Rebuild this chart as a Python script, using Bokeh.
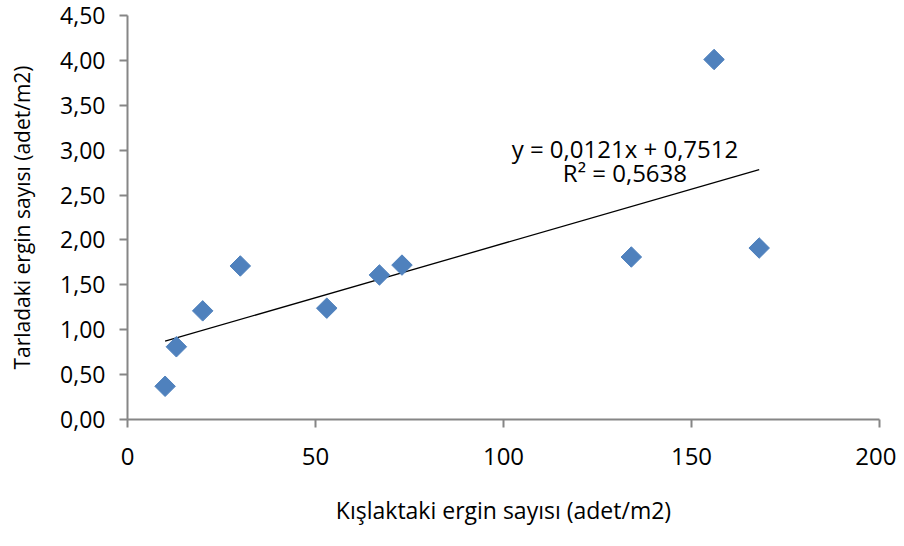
from bokeh.plotting import figure
from bokeh.models import Range1d, FixedTicker, ColumnDataSource
from bokeh.core.properties import value
from bokeh.embed import file_html
from bokeh.resources import INLINE

# data
x_vals = [10, 13, 20, 30, 53, 67, 73, 134, 156, 168]
y_vals = [0.37, 0.81, 1.21, 1.71, 1.24, 1.61, 1.72, 1.81, 4.01, 1.91]
slope_val = 0.0121
intercept_val = 0.7512
eq_text = "y = 0,0121x + 0,7512"
r2_text = "R² = 0,5638"
x_ticks = [0, 50, 100, 150, 200]
y_ticks = [0, 0.5, 1.0, 1.5, 2.0, 2.5, 3.0, 3.5, 4.0, 4.5]
y_tick_labels = ["0,00", "0,50", "1,00", "1,50", "2,00", "2,50", "3,00", "3,50", "4,00", "4,50"]
x_title = "Kışlaktaki ergin sayısı (adet/m2)"
y_title = "Tarladaki ergin sayısı (adet/m2)"

FONT = "Open Sans"
AXIS_COLOR = "#868686"

p = figure(width=896, height=538, output_backend="svg", toolbar_location=None,
           x_range=Range1d(0, 200), y_range=Range1d(0, 4.5),
           min_border_left=127, min_border_right=17, min_border_top=15, min_border_bottom=119)
p.outline_line_color = None
p.xgrid.visible = False
p.ygrid.visible = False
p.background_fill_color = "white"

# trend line over the data span
xt = [min(x_vals), max(x_vals)]
yt = [slope_val * v + intercept_val for v in xt]
p.line(xt, yt, line_color="black", line_width=1.3)

src = ColumnDataSource(dict(x=x_vals, y=y_vals))
p.scatter("x", "y", source=src, marker="square", angle=0.785398, size=14.5,
          fill_color="#4F81BD", line_color="#4F81BD", line_width=1)

p.text(x=[132.3, 132.3], y=[3.02, 2.75], text=[eq_text, r2_text], text_align="center",
       text_baseline="middle", text_font=value(FONT), text_font_size="24px", text_color="black")

for ax in (p.xaxis[0], p.yaxis[0]):
    ax.axis_line_color = AXIS_COLOR
    ax.axis_line_width = 2
    ax.major_tick_line_color = AXIS_COLOR
    ax.major_tick_line_width = 2
    ax.major_tick_out = 8
    ax.major_tick_in = 0
    ax.minor_tick_line_color = None
    ax.major_label_text_font = FONT
    ax.major_label_text_color = "black"
    ax.axis_label_text_font = FONT
    ax.axis_label_text_font_style = "normal"
    ax.axis_label_text_color = "black"

p.xaxis.major_label_text_font_size = "24px"
p.yaxis.major_label_text_font_size = "23px"
p.xaxis.axis_label_text_font_size = "23px"
p.yaxis.axis_label_text_font_size = "21px"

p.xaxis.ticker = FixedTicker(ticks=x_ticks)
p.yaxis.ticker = FixedTicker(ticks=y_ticks)
p.yaxis.major_label_overrides = {t: l for t, l in zip(y_ticks, y_tick_labels)}
p.xaxis.axis_label = x_title
p.yaxis.axis_label = y_title
p.xaxis.major_label_standoff = 20
p.yaxis.major_label_standoff = 14
p.xaxis.axis_label_standoff = 26
p.yaxis.axis_label_standoff = 21

open("out.html", "w").write(file_html(p, INLINE))
